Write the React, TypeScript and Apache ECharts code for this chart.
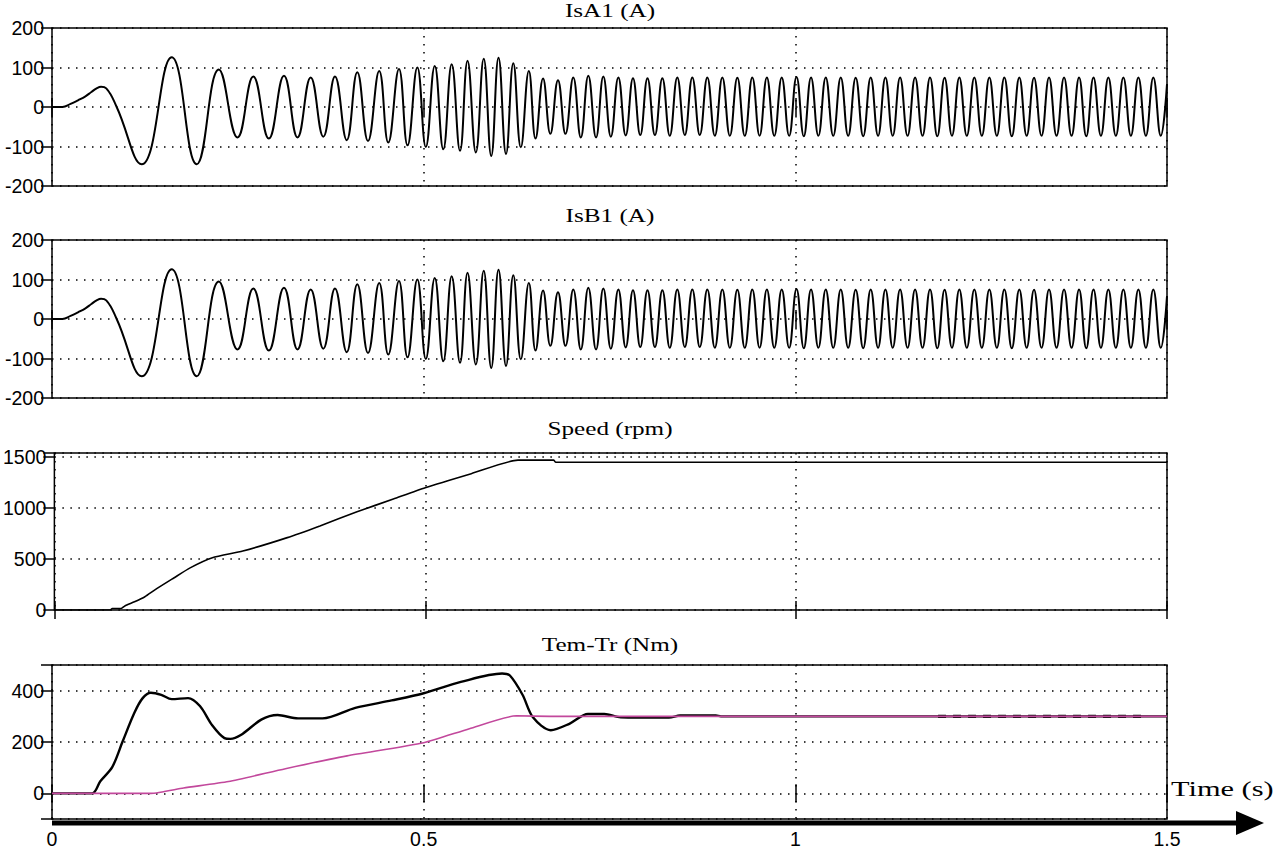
import React, { useEffect, useRef } from "react";
import * as echarts from "echarts";

// ---- Data ----
const panelTitles = ["IsA1 (A)", "IsB1 (A)", "Speed (rpm)", "Tem-Tr (Nm)"];
const xAxisName = "Time (s)";

// Stator current: extrema (peaks / troughs) of the trace, time in s
const isTimes = [
  0, 0.014, 0.025, 0.035, 0.045, 0.053, 0.06, 0.066, 0.073, 0.087,
  0.1207, 0.161, 0.1947, 0.2244, 0.2496, 0.2708, 0.2917, 0.3121, 0.3303, 0.348,
  0.365, 0.3807, 0.3965, 0.4107, 0.4251, 0.4402, 0.4524, 0.4668, 0.4783, 0.4915,
  0.5029, 0.5149, 0.5264, 0.5377, 0.5489, 0.559, 0.5702, 0.5808, 0.5909, 0.6007,
  0.6108, 0.6206, 0.6307, 0.6415, 0.6505, 0.6606, 0.6704, 0.6807, 0.6908, 0.7013,
  0.7114,
  0.7215, 0.7319, 0.7417, 0.7518, 0.7619, 0.7718, 0.7816, 0.7914, 0.8011, 0.8111,
  0.8211, 0.8311, 0.8412, 0.8513, 0.8614, 0.8715, 0.8816, 0.8917, 0.9018, 0.9119,
  0.922, 0.932, 0.9421, 0.9519, 0.9617, 0.9717, 0.9817, 0.9917, 1.0016, 1.0114,
  1.0211, 1.031, 1.0409, 1.051, 1.0611, 1.0711, 1.0812, 1.0913, 1.1014, 1.1113,
  1.1212, 1.131, 1.1409, 1.151, 1.1611, 1.1711, 1.1812, 1.191, 1.2008, 1.2107,
  1.2206, 1.2307, 1.2408, 1.2509, 1.261, 1.2711, 1.2812, 1.2912, 1.3013, 1.3112,
  1.3211, 1.3312, 1.3413, 1.3514, 1.3615, 1.3716, 1.3817, 1.3914, 1.4011, 1.4111,
  1.4211, 1.4312, 1.4413, 1.4514, 1.4615, 1.4716, 1.4816, 1.4916, 1.5,
];
const isA1Values = [
  0, 0, 8, 17, 27, 38, 47, 51, 47, 0,
  -145, 126, -145, 95, -77, 77, -80, 79, -77, 75,
  -75, 77, -84, 88, -86, 91, -90, 96, -97, 100,
  -101, 104, -107, 108, -111, 117, -115, 122, -124, 125,
  -119, 111, -102, 91, -80, 72, -68, 68, -68, 75,
  -77,
  79, -77, 77, -75, 75, -72, 73, -71, 73, -71,
  73, -73, 75, -71, 75, -71, 75, -73, 75, -73,
  74, -73, 75, -73, 75, -73, 75, -73, 76, -74,
  75, -73, 75, -73, 75, -73, 74, -74, 75, -73,
  75, -73, 75, -73, 75, -73, 75, -74, 74, -73,
  75, -73, 75, -73, 75, -73, 75, -74, 75, -73,
  74, -73, 75, -73, 75, -73, 75, -74, 75, -73,
  75, -73, 75, -73, 75, -73, 75, -73, 58,
];
// The IsB1 trace in the reference is drawn identical to IsA1
const isB1Values = [...isA1Values];

// Rotor speed (rpm)
const speedTimes = [
  0, 0.075, 0.078, 0.09, 0.095, 0.108, 0.122, 0.136, 0.161, 0.183,
  0.213, 0.254, 0.314, 0.358, 0.408, 0.457, 0.5, 0.562, 0.625, 0.673,
  0.676, 1.5,
];
const speedValues = [
  0, 0, 15, 15, 40, 80, 130, 200, 314, 413,
  512, 578, 710, 825, 963, 1089, 1200, 1337, 1470, 1470,
  1450, 1450,
];

// Electromagnetic torque Tem (Nm)
const temTimes = [
  0, 0.054, 0.065, 0.081, 0.095, 0.111, 0.122, 0.133, 0.147, 0.161,
  0.183, 0.199, 0.2155, 0.232, 0.24, 0.254, 0.2815, 0.3035, 0.331, 0.364,
  0.408, 0.457, 0.5, 0.55, 0.6055, 0.616, 0.633, 0.647, 0.671, 0.696,
  0.721, 0.743, 0.765, 0.79, 0.83, 0.845, 0.893, 0.9, 1.5,
];
const temValues = [
  0, 0, 47, 102, 202, 315, 371, 392, 384, 367,
  371, 340, 265, 215, 212, 227, 287, 305, 292, 292,
  333, 362, 390, 434, 467, 459, 384, 296, 246, 271,
  309, 309, 296, 295, 295, 303, 303, 300, 300,
];
// Late Tem ripple, visible as short dashes around the Tr line
const temRippleTimes = [1.192, 1.472];
const temRippleValues = [300, 300];

// Load torque Tr (Nm)
const trTimes = [0, 0.133, 0.177, 0.2375, 0.314, 0.397, 0.5, 0.5615, 0.625, 0.67, 1.5];
const trValues = [0, 0, 21, 46, 96, 146, 197, 252, 302, 300, 300];

const xTickValues = [0, 0.5, 1, 1.5];

const pairs = (ts: number[], vs: number[]) => ts.map((t, i) => [t, vs[i]]);

export default function App() {
  const ref = useRef<HTMLDivElement>(null);

  useEffect(() => {
    if (!ref.current) return;
    const chart = echarts.init(ref.current, undefined, { renderer: "svg" });

    const sans = "'Liberation Sans', Arial, sans-serif";
    const serif = "'Liberation Serif', 'Times New Roman', serif";
    const dotted = { color: "#000", width: 1.5, type: [1.5, 6.5] as any };

    const grids = [
      { left: 52, width: 1115, top: 28, height: 158 },
      { left: 52, width: 1115, top: 240, height: 158 },
      { left: 52, width: 1115, top: 453, height: 157 },
      { left: 52, width: 1115, top: 665, height: 159 },
    ];

    const xAxes: any[] = [];
    const yAxes: any[] = [];
    const yRanges = [
      { min: -200, max: 200, interval: 100 },
      { min: -200, max: 200, interval: 100 },
      { min: 0, max: 1540, interval: 500 },
      { min: -100, max: 500, splitNumber: 3 },
    ];
    const yLabelKeep = [
      (v: number) => true,
      (v: number) => true,
      (v: number) => v % 500 === 0,
      (v: number) => v === 0 || v === 200 || v === 400,
    ];

    grids.forEach((g, i) => {
      const last = i === 3;
      xAxes.push({
        type: "value",
        gridIndex: i,
        position: "bottom",
        min: 0,
        max: 1.5,
        interval: 0.5,
        axisLine: { show: false },
        axisTick: { show: true, inside: true, length: 9, lineStyle: { color: "#000", width: 1.5 } },
        axisLabel: {
          show: last,
          color: "#000",
          fontFamily: sans,
          fontSize: 19.5,
          margin: 10,
          formatter: (v: number) => {
            const idx = xTickValues.indexOf(v);
            return idx >= 0 ? String(xTickValues[idx]) : "";
          },
        },
        splitLine: { show: true, lineStyle: dotted },
      });
      xAxes.push({
        type: "value",
        gridIndex: i,
        position: "top",
        min: 0,
        max: 1.5,
        interval: 0.5,
        axisLine: { show: false },
        axisTick: { show: true, inside: true, length: 9, lineStyle: { color: "#000", width: 1.5 } },
        axisLabel: { show: false },
        splitLine: { show: false },
      });
      const r = yRanges[i];
      const keep = yLabelKeep[i];
      yAxes.push({
        type: "value",
        gridIndex: i,
        position: "left",
        ...r,
        axisLine: { show: false },
        axisTick: { show: false },
        axisLabel: {
          color: "#000",
          fontFamily: sans,
          fontSize: 19.5,
          margin: 8,
          formatter: (v: number) => (keep(v) ? String(v) : ""),
        },
        splitLine: { show: true, lineStyle: dotted },
      });
      yAxes.push({
        type: "value",
        gridIndex: i,
        position: "right",
        ...r,
        axisLine: { show: false },
        axisTick: { show: true, inside: true, length: 11, lineStyle: { color: "#000", width: 1.5 } },
        axisLabel: { show: false },
        splitLine: { show: false },
      });
    });

    const titleCenters = [11, 216, 429, 645];

    const option: any = {
      animation: false,
      backgroundColor: "#fff",
      grid: grids.map((g) => ({ ...g, show: true, borderColor: "#000", borderWidth: 1.5, backgroundColor: "transparent" })),
      xAxis: xAxes,
      yAxis: yAxes,
      series: [
        {
          type: "line",
          xAxisIndex: 0,
          yAxisIndex: 0,
          data: pairs(isTimes, isA1Values),
          showSymbol: false,
          smooth: 0.45,
          lineStyle: { color: "#000", width: 2 },
        },
        {
          type: "line",
          xAxisIndex: 2,
          yAxisIndex: 2,
          data: pairs(isTimes, isB1Values),
          showSymbol: false,
          smooth: 0.45,
          lineStyle: { color: "#000", width: 2 },
        },
        {
          type: "line",
          xAxisIndex: 4,
          yAxisIndex: 4,
          data: pairs(speedTimes, speedValues),
          showSymbol: false,
          smooth: 0.2,
          lineStyle: { color: "#000", width: 1.6 },
        },
        {
          type: "line",
          xAxisIndex: 6,
          yAxisIndex: 6,
          data: pairs(temTimes, temValues),
          showSymbol: false,
          smooth: 0.3,
          lineStyle: { color: "#000", width: 2.4 },
        },
        {
          type: "line",
          xAxisIndex: 6,
          yAxisIndex: 6,
          data: pairs(temRippleTimes, temRippleValues),
          showSymbol: false,
          lineStyle: { color: "#000", width: 3.2, type: [8, 7] as any },
        },
        {
          type: "line",
          xAxisIndex: 6,
          yAxisIndex: 6,
          data: pairs(trTimes, trValues),
          showSymbol: false,
          smooth: 0.2,
          lineStyle: { color: "#c2489c", width: 1.6 },
        },
      ],
      graphic: [
        ...panelTitles.map((t, i) => ({
          type: "text",
          x: 610,
          y: titleCenters[i],
          scaleX: 1.4,
          style: {
            text: t,
            font: `18px ${serif}`,
            fill: "#000",
            align: "center",
            verticalAlign: "middle",
          },
        })),
        {
          type: "text",
          x: 1171,
          y: 789,
          scaleX: 1.38,
          style: {
            text: xAxisName,
            font: `22px ${serif}`,
            fill: "#000",
            align: "left",
            verticalAlign: "middle",
          },
        },
        {
          type: "line",
          shape: { x1: 52, y1: 823, x2: 1242, y2: 823 },
          style: { stroke: "#000", lineWidth: 5 },
        },
        {
          type: "polygon",
          shape: { points: [[1236, 811], [1264, 823], [1236, 835]] },
          style: { fill: "#000" },
        },
      ],
    };

    chart.setOption(option);
    return () => chart.dispose();
  }, []);

  return (
    <div
      ref={ref}
      style={{ position: "fixed", left: 0, top: 0, width: 1280, height: 849, background: "#fff" }}
    />
  );
}
